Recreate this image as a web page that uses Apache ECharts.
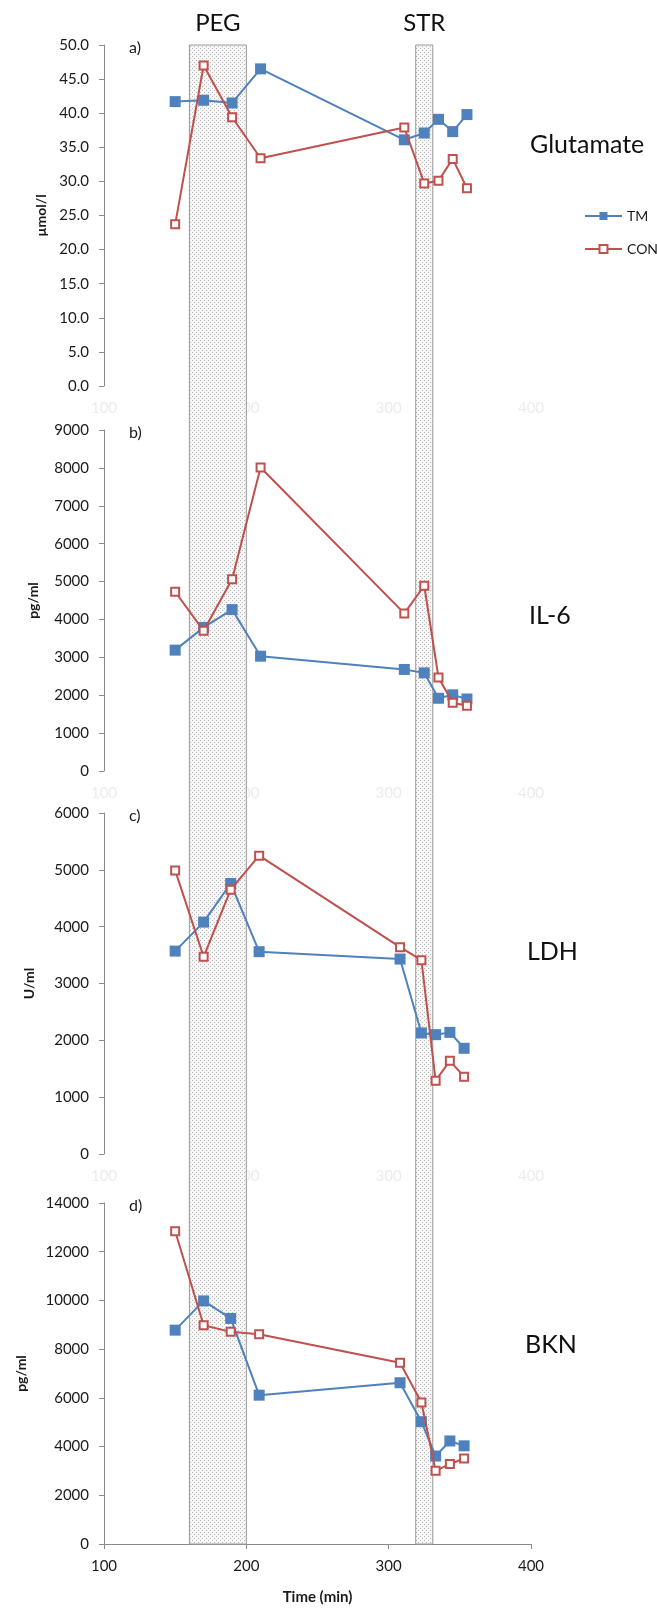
<!DOCTYPE html>
<html>
<head>
<meta charset="utf-8">
<script src="https://cdn.jsdelivr.net/npm/echarts@6/dist/echarts.min.js"></script>
<style>
html,body{margin:0;padding:0;background:#fff;}
#chart{width:657px;height:1611px;}
</style>
</head>
<body>
<div id="chart"></div>
<script>
// ---- data ----
const timesAB = [150, 170, 190, 210, 311, 325, 335, 345, 355];
const timesCD = [150, 170, 189, 209, 308, 323, 333, 343, 353];
const seriesNames = ['TM', 'CON'];
const panelNames = ['Glutamate', 'IL-6', 'LDH', 'BKN'];
const panelLetters = ['a)', 'b)', 'c)', 'd)'];
const yUnits = ['µmol/l', 'pg/ml', 'U/ml', 'pg/ml'];
const yMax = [50, 9000, 6000, 14000];
const yStep = [5, 1000, 1000, 2000];
const xTicks = [100, 200, 300, 400];
const pegBand = [160, 200];
const strBand = [319, 331];
const bandNames = ['PEG', 'STR'];

const gluTM  = [41.7, 41.9, 41.5, 46.5, 36.1, 37.1, 39.1, 37.3, 39.8];
const gluCON = [23.7, 47.0, 39.4, 33.4, 37.9, 29.7, 30.1, 33.3, 29.0];
const il6TM  = [3190, 3790, 4260, 3030, 2680, 2590, 1920, 2010, 1900];
const il6CON = [4730, 3700, 5060, 8010, 4160, 4890, 2470, 1800, 1720];
const ldhTM  = [3570, 4080, 4760, 3560, 3430, 2130, 2100, 2140, 1860];
const ldhCON = [4990, 3470, 4650, 5250, 3640, 3410, 1290, 1640, 1360];
const bknTM  = [8780, 9980, 9260, 6110, 6620, 5020, 3610, 4230, 4030];
const bknCON = [12840, 8980, 8710, 8610, 7440, 5810, 3010, 3280, 3510];

const panelTimes = [timesAB, timesAB, timesCD, timesCD];
const panelTM = [gluTM, il6TM, ldhTM, bknTM];
const panelCON = [gluCON, il6CON, ldhCON, bknCON];

// ---- layout / style ----
const FONT = 'Lato';
const LEFT = 104, RIGHT = 126;
const tops = [45, 430, 813, 1203];
const H = 341;
const nameGaps = [56, 64, 68, 76];
const blue = '#4F81BD', red = '#C0504D';

function zip(xs, ys){ return xs.map((x,i)=>[x, ys[i]]); }

// dotted pattern
const pc = document.createElement('canvas');
pc.width = 4; pc.height = 4;
const g = pc.getContext('2d');
g.fillStyle = '#f7f7f7'; g.fillRect(0,0,4,4);
g.fillStyle = '#b8b8b8'; g.fillRect(0,0,1,1); g.fillRect(2,2,1,1);

const grids = [], xAxes = [], yAxes = [], series = [], graphics = [];

for (let p = 0; p < 4; p++) {
  grids.push({left: LEFT, right: RIGHT, top: tops[p], height: H});
  const last = p === 3;
  xAxes.push({
    type: 'value', gridIndex: p, min: 100, max: 400, interval: 100,
    axisLine: {show: last, lineStyle: {color: '#8a8a8a', width: 1}},
    axisTick: {show: last, length: 5, lineStyle: {color: '#8a8a8a'}},
    splitLine: {show: false},
    axisLabel: {show: true, fontFamily: FONT, fontSize: 15, margin: 15,
      color: last ? '#1a1a1a' : '#ececec',
      customValues: xTicks},
    name: last ? 'Time (min)' : '',
    nameLocation: 'middle', nameGap: 46,
    nameTextStyle: {fontFamily: FONT, fontSize: 15, fontWeight: 'bold', color: '#1a1a1a'}
  });
  yAxes.push({
    type: 'value', gridIndex: p, min: 0, max: yMax[p], interval: yStep[p],
    axisLine: {show: true, lineStyle: {color: '#8a8a8a', width: 1}},
    axisTick: {show: true, inside: false, length: 5, lineStyle: {color: '#8a8a8a'}},
    splitLine: {show: false},
    axisLabel: {fontFamily: FONT, fontSize: 15, color: '#1a1a1a', margin: 15,
      formatter: p === 0 ? (v)=>v.toFixed(1) : (v)=>String(v)},
    name: yUnits[p], nameLocation: 'middle', nameGap: nameGaps[p], nameRotate: 90,
    nameTextStyle: {fontFamily: FONT, fontSize: 14, fontWeight: 'bold', color: '#1a1a1a'}
  });
  series.push({
    name: seriesNames[0], type: 'line', xAxisIndex: p, yAxisIndex: p, z: 4,
    data: zip(panelTimes[p], panelTM[p]),
    symbol: 'rect', symbolSize: 11,
    lineStyle: {color: blue, width: 2}, itemStyle: {color: blue},
    animation: false
  });
  series.push({
    name: seriesNames[1], type: 'line', xAxisIndex: p, yAxisIndex: p, z: 5,
    data: zip(panelTimes[p], panelCON[p]),
    symbol: 'emptyRect', symbolSize: 8,
    lineStyle: {color: red, width: 2}, itemStyle: {color: red, borderWidth: 1.6},
    animation: false
  });
  graphics.push({type: 'text', left: 129, top: tops[p] - 5,
    style: {text: panelLetters[p], font: '16px ' + FONT, fill: '#1a1a1a'}});
}
// name label positions
const nameLeft = [530, 529, 527, 525];
const nameMid = [147, 618, 954, 1347];
for (let p = 0; p < 4; p++) {
  graphics.push({type: 'text', left: nameLeft[p], top: nameMid[p] - 15,
    style: {text: panelNames[p], font: '25px ' + FONT, fill: '#111'}});
}

// band grid spanning all panels
grids.push({left: LEFT, right: RIGHT, top: tops[0], height: tops[3] + H - tops[0]});
xAxes.push({type: 'value', gridIndex: 4, min: 100, max: 400, show: false});
yAxes.push({type: 'value', gridIndex: 4, min: 0, max: 1, show: false});
series.push({
  type: 'scatter', xAxisIndex: 4, yAxisIndex: 4, z: 1, symbolSize: 0,
  data: [[100, 0]], silent: true, animation: false,
  markArea: {
    silent: true,
    itemStyle: {color: {image: pc, repeat: 'repeat'}, borderColor: '#9a9a9a', borderWidth: 1},
    label: {show: true, position: 'top', distance: 9, fontFamily: FONT, fontSize: 24, color: '#111'},
    data: [
      [{name: bandNames[0], xAxis: pegBand[0]}, {xAxis: pegBand[1]}],
      [{name: bandNames[1], xAxis: strBand[0]}, {xAxis: strBand[1]}]
    ]
  }
});

const chart = echarts.init(document.getElementById('chart'), null, {renderer: 'canvas'});
chart.setOption({
  animation: false,
  backgroundColor: '#fff',
  grid: grids, xAxis: xAxes, yAxis: yAxes, series: series,
  legend: {
    data: seriesNames, orient: 'vertical', left: 579, top: 204, itemGap: 19,
    itemWidth: 37, itemHeight: 10,
    textStyle: {fontFamily: FONT, fontSize: 14, color: '#1a1a1a'}
  },
  graphic: graphics
});
</script>
</body>
</html>
